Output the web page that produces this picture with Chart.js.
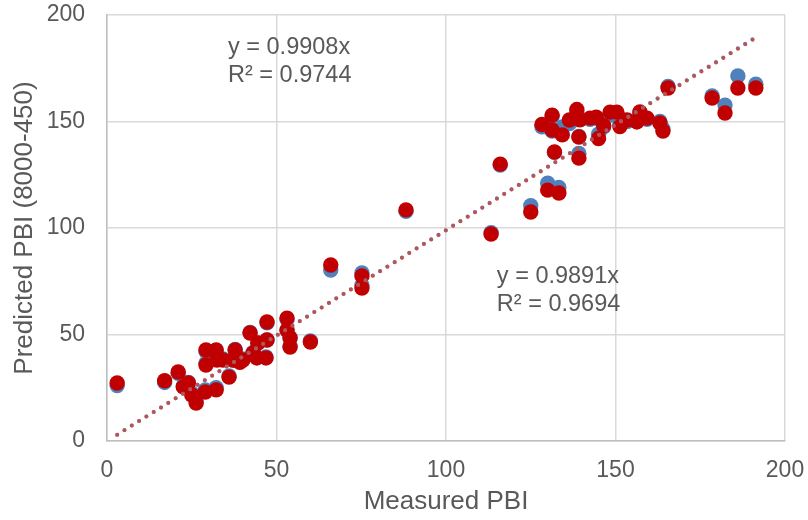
<!DOCTYPE html>
<html>
<head>
<meta charset="utf-8">
<script src="https://cdn.jsdelivr.net/npm/chart.js@4.4.1/dist/chart.umd.min.js"></script>
<style>
  html, body { margin: 0; padding: 0; background: #ffffff; }
  #wrap { width: 808px; height: 520px; }
</style>
</head>
<body>
<div id="wrap"><canvas id="c" width="808" height="520"></canvas></div>
<script>
// Measured PBI (x) shared by both prediction series
const measured = [
  3, 17, 21, 22.5, 24, 25, 26.3, 29, 32.2, 29.2,
  29.2, 32.2, 32.4, 36, 37.2, 37.8, 40.1, 42.2, 43.1, 44.5,
  46.9, 47.2, 47.2, 53.1, 53.1, 54, 54, 60, 44.2, 39.2,
  34.2, 66, 75.2, 75.2, 88.2, 113.3, 125, 116, 130, 133.3,
  132, 139.2, 139.2, 145, 128.3, 131.3, 131.3, 134.3, 138.6, 136.4,
  139.5, 144.3, 148.4, 150.4, 151.3, 153.4, 156.3, 157.2, 159.3, 163.1,
  164, 165.5, 178.5, 182.3, 186.1, 191.4, 142.5, 146.5
];
// Predicted PBI, first model (blue)
const predictedA = [
  26.0, 27.5, 31.8, 25.8, 27.5, 22.5, 18.5, 24.0, 25.0, 36.5,
  42.0, 42.5, 38.5, 30.5, 38.0, 43.0, 38.5, 51.0, 41.5, 46.0,
  39.5, 55.5, 47.5, 57.0, 52.0, 48.5, 44.5, 47.0, 39.5, 37.5,
  38.5, 80.3, 78.9, 73.2, 107.8, 97.8, 110.5, 129.5, 121.0, 119.0,
  135.5, 135.0, 143.0, 144.0, 147.5, 152.5, 145.5, 147.4, 154.5, 149.0,
  151.0, 151.5, 153.0, 153.5, 148.5, 150.0, 150.5, 154.0, 151.0, 150.0,
  146.5, 166.5, 162.0, 157.7, 171.4, 167.5, 151.0, 147.5
];
// Predicted PBI, second model (red)
const predictedB = [
  27.2, 28.3, 32.4, 25.4, 27.2, 21.6, 17.8, 23.0, 24.0, 35.7,
  42.7, 42.7, 38.0, 30.0, 38.0, 42.7, 38.0, 50.7, 41.3, 46.0,
  39.0, 55.9, 47.4, 57.7, 52.1, 48.4, 44.1, 46.5, 39.0, 37.0,
  38.0, 82.6, 77.5, 71.8, 108.5, 97.2, 107.5, 130.0, 117.8, 116.4,
  135.7, 132.8, 142.7, 142.0, 148.6, 153.0, 146.0, 143.7, 155.6, 150.7,
  150.8, 152.0, 154.4, 154.4, 147.6, 150.7, 149.8, 154.5, 151.6, 149.3,
  145.5, 165.7, 161.0, 154.0, 165.7, 165.7, 151.6, 148.0
];
// Zero-intercept trendline fits
const slopeA = 0.9908, r2A = 0.9744;
const slopeB = 0.9891, r2B = 0.9694;
// Axis ticks
const tickValues = [0, 50, 100, 150, 200];

const toPoints = (xs, ys) => xs.map((x, i) => ({ x: x, y: ys[i] }));
const xMin = Math.min(...measured), xMax = Math.max(...measured);
const trend = (m) => [{ x: xMin, y: m * xMin }, { x: xMax, y: m * xMax }];

const FONT = "'Liberation Sans', Arial, sans-serif";
const GREY = '#595959';

// Writes the fitted equations beside the trendlines, anchored in data units
const equationLabels = {
  id: 'equationLabels',
  afterDatasetsDraw(chart) {
    const { ctx, scales } = chart;
    const labels = [
      { x: 35.7, y: 184.5, lines: ['y = ' + slopeA.toFixed(4) + 'x', 'R\u00b2 = ' + r2A.toFixed(4)] },
      { x: 115,  y: 77,    lines: ['y = ' + slopeB.toFixed(4) + 'x', 'R\u00b2 = ' + r2B.toFixed(4)] }
    ];
    ctx.save();
    ctx.font = '23.5px ' + FONT;
    ctx.fillStyle = GREY;
    ctx.textAlign = 'left';
    ctx.textBaseline = 'middle';
    labels.forEach(l => {
      const px = scales.x.getPixelForValue(l.x);
      const py = scales.y.getPixelForValue(l.y);
      l.lines.forEach((t, i) => ctx.fillText(t, px, py + i * 28));
    });
    ctx.restore();
  }
};

const dotted = {
  type: 'line', showLine: true, pointRadius: 0, pointHoverRadius: 0,
  borderDash: [0, 8.6], borderCapStyle: 'round', borderWidth: 4, fill: false
};

new Chart(document.getElementById('c'), {
  type: 'scatter',
  data: {
    datasets: [
      Object.assign({}, dotted, { label: 'Trend B', data: trend(slopeB), borderColor: 'rgba(192,80,77,0.95)', order: 0 }),
      Object.assign({}, dotted, { label: 'Trend A', data: trend(slopeA), borderColor: 'rgba(79,129,189,0.9)', order: 1 }),
      { label: 'Predicted B', data: toPoints(measured, predictedB), backgroundColor: '#C00000',
        borderWidth: 0, pointRadius: 7.7, pointHoverRadius: 7.7, order: 2 },
      { label: 'Predicted A', data: toPoints(measured, predictedA), backgroundColor: '#4F81BD',
        borderWidth: 0, pointRadius: 7.7, pointHoverRadius: 7.7, order: 3 }
    ]
  },
  options: {
    responsive: false,
    animation: false,
    devicePixelRatio: 1,
    layout: { padding: { left: 0, right: 23, top: 15, bottom: 0 } },
    plugins: { legend: { display: false }, tooltip: { enabled: false } },
    scales: {
      x: {
        type: 'linear', min: 0, max: 200,
        afterBuildTicks: (s) => { s.ticks = tickValues.map(v => ({ value: v })); },
        afterFit: (s) => { s.height = 79; s.paddingLeft = 0; s.paddingRight = 0; },
        grid: { color: '#D9D9D9', lineWidth: 1.5, drawTicks: false },
        border: { color: '#BFBFBF', width: 1.5 },
        ticks: { color: GREY, font: { family: FONT, size: 23 }, padding: 16, maxRotation: 0 },
        title: { display: true, text: 'Measured PBI', color: GREY,
                 font: { family: FONT, size: 26 }, padding: { top: 0, bottom: 3 } }
      },
      y: {
        type: 'linear', min: 0, max: 200,
        afterBuildTicks: (s) => { s.ticks = tickValues.map(v => ({ value: v })); },
        afterFit: (s) => { s.width = 107; s.paddingTop = 0; s.paddingBottom = 0; },
        grid: { color: '#D9D9D9', lineWidth: 1.5, drawTicks: false },
        border: { color: '#BFBFBF', width: 1.5 },
        ticks: { color: GREY, font: { family: FONT, size: 23 }, padding: 22 },
        title: { display: true, text: 'Predicted PBI (8000-450)', color: GREY,
                 font: { family: FONT, size: 26 }, padding: { top: 9, bottom: 0 } }
      }
    }
  },
  plugins: [equationLabels]
});
</script>
</body>
</html>
